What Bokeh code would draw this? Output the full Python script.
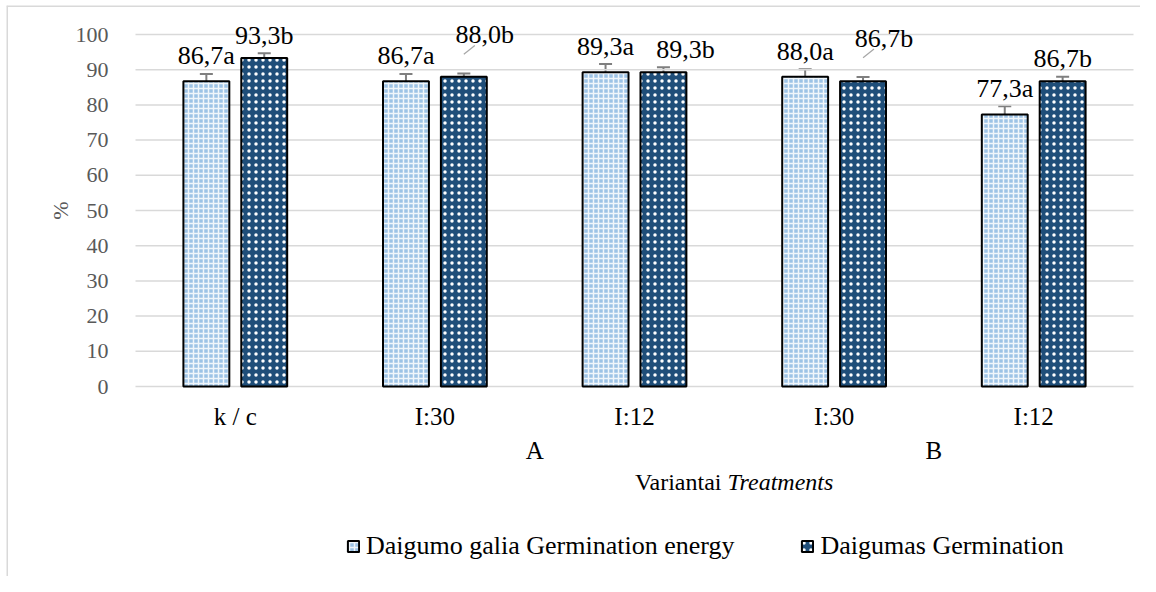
from bokeh.plotting import figure
from bokeh.models import (ColumnDataSource, Range1d, FixedTicker, LinearAxis, Legend,
                          LegendItem, Whisker, TeeHead, Label, Span)
from bokeh.core.properties import value
from bokeh.embed import file_html
from bokeh.resources import INLINE

# ---- data ----
categories = ["k / c", "I:30", "I:12", "I:30", "I:12"]
groups = ["", "A", "A", "B", "B"]
energy = [86.7, 86.7, 89.3, 88.0, 77.3]
germination = [93.3, 88.0, 89.3, 86.7, 86.7]
energy_err = [2.1, 2.1, 2.3, 2.1, 2.3]
germ_err = [1.4, 0.9, 1.4, 1.2, 1.3]
energy_letters = ["a", "a", "a", "a", "a"]
germ_letters = ["b", "b", "b", "b", "b"]
series_names = ["Daigumo galia Germination energy", "Daigumas Germination"]
y_ticks = [0, 10, 20, 30, 40, 50, 60, 70, 80, 90, 100]

FONT = "Liberation Serif"
LIGHT = "#9DC3E6"
DARK = "#1F4E79"
GRID = "#d9d9d9"

# ---- layout (pixels) ----
W, H = 1140, 576
FL, FT = 6, 5                 # frame left/top (chart border)
PX_X0, PX_X1 = 135, 1133      # plot area left/right
PX_Y0, PX_Y100 = 386, 34      # y=0 and y=100 pixel rows
ncat = len(categories)
ux = (PX_X1 - PX_X0) / ncat
uy = (PX_Y0 - PX_Y100) / 100.0
x_start = -(PX_X0 - FL) / ux
x_end = ncat + (W - PX_X1) / ux
y_end = (PX_Y0 - FT) / uy
y_start = -(H - PX_Y0) / uy

cat_x = [i + 0.5 for i in range(ncat)]
off = 0.145
bw = 0.23

def fmt(v, letter):
    return f"{v:.1f}".replace(".", ",") + letter

# label styles
lab_dy = -18
germ_xoff = [0, 21, 22, 21, 0]
germ_yoff = [lab_dy, -39, lab_dy, -39, lab_dy]
germ_leader = [False, True, False, True, False]

src_e = ColumnDataSource(dict(
    x=[c - off for c in cat_x], top=energy,
    upper=[v + e for v, e in zip(energy, energy_err)],
    lower=[v - e for v, e in zip(energy, energy_err)],
    label=[fmt(v, l) for v, l in zip(energy, energy_letters)],
))
src_g = ColumnDataSource(dict(
    x=[c + off for c in cat_x], top=germination,
    upper=[v + e for v, e in zip(germination, germ_err)],
    lower=[v - e for v, e in zip(germination, germ_err)],
    label=[fmt(v, l) for v, l in zip(germination, germ_letters)],
    xoff=germ_xoff, yoff=germ_yoff,
))

p = figure(width=W, height=H, output_backend="svg", toolbar_location=None,
           x_range=Range1d(x_start, x_end), y_range=Range1d(y_start, y_end),
           x_axis_type=None, y_axis_type=None,
           min_border_left=FL, min_border_right=0, min_border_top=FT, min_border_bottom=0)
p.outline_line_color = None
p.background_fill_color = "white"
p.border_fill_color = "white"

# chart border (left/top visible)
p.add_layout(Span(location=x_start, dimension="height", line_color=GRID, line_width=3))
p.add_layout(Span(location=y_end, dimension="width", line_color=GRID, line_width=3))

# gridlines
p.segment(x0=[0] * len(y_ticks), x1=[ncat] * len(y_ticks), y0=y_ticks, y1=y_ticks,
          line_color=GRID, line_width=1.5)

# y axis
yax = LinearAxis(fixed_location=0, bounds=(0, 100), ticker=FixedTicker(ticks=y_ticks))
yax.axis_line_color = None
yax.major_tick_line_color = None
yax.minor_tick_line_color = None
yax.major_label_text_font = FONT
yax.major_label_text_font_size = "22px"
yax.major_label_text_color = "#595959"
yax.major_label_standoff = 21
yax.axis_label = "%"
yax.axis_label_text_font = FONT
yax.axis_label_text_font_size = "22px"
yax.axis_label_text_font_style = "normal"
yax.axis_label_text_color = "#595959"
yax.axis_label_standoff = 0
p.add_layout(yax, "left")

# category axis
xax = LinearAxis(fixed_location=0, bounds=(0, ncat), ticker=FixedTicker(ticks=cat_x),
                 major_label_overrides={x: c for x, c in zip(cat_x, categories)})
xax.axis_line_color = None
xax.major_tick_line_color = None
xax.minor_tick_line_color = None
xax.major_label_text_font = FONT
xax.major_label_text_font_size = "25px"
xax.major_label_text_color = "black"
xax.major_label_standoff = 10
p.add_layout(xax, "below")

# group axis
gnames = [g for g in dict.fromkeys(groups) if g]
gpos = [sum(x for x, g in zip(cat_x, groups) if g == n) / groups.count(n) for n in gnames]
ax2 = LinearAxis(fixed_location=0, bounds=(0, ncat), ticker=FixedTicker(ticks=gpos),
                 major_label_overrides={x: g for x, g in zip(gpos, gnames)})
ax2.axis_line_color = None
ax2.major_tick_line_color = None
ax2.minor_tick_line_color = None
ax2.major_label_text_font = FONT
ax2.major_label_text_font_size = "25px"
ax2.major_label_text_color = "black"
ax2.major_label_standoff = 44
p.add_layout(ax2, "below")

# axis title with italic part
TX, TY = 727 - FL, H - 481
p.add_layout(Label(x=TX, y=TY, x_units="screen", y_units="screen", text="Variantai ",
                   text_align="right", text_baseline="middle", text_font=FONT,
                   text_font_size="24px", text_color="black"))
p.add_layout(Label(x=TX, y=TY, x_units="screen", y_units="screen", text="Treatments",
                   text_align="left", text_baseline="middle", text_font=FONT,
                   text_font_size="24px", text_font_style="italic", text_color="black"))

# bars
r_e = p.vbar(x="x", top="top", width=bw, bottom=0, source=src_e,
             fill_color=LIGHT, line_color="black", line_width=2,
             hatch_pattern="cross", hatch_color="white", hatch_scale=5, hatch_weight=1.5, hatch_alpha=0.85)
r_g = p.vbar(x="x", top="top", width=bw, bottom=0, source=src_g,
             fill_color=DARK, line_color="black", line_width=2,
             hatch_pattern="dot", hatch_color="white", hatch_scale=7, hatch_weight=2)

# error bars
for src in (src_e, src_g):
    p.add_layout(Whisker(source=src, base="x", upper="upper", lower="lower",
                         line_color="#7f7f7f", line_width=2,
                         upper_head=TeeHead(size=13, line_color="#7f7f7f", line_width=2),
                         lower_head=TeeHead(size=13, line_color="#7f7f7f", line_width=2)))

# data labels
p.text(x="x", y="upper", text="label", source=src_e, text_align="center",
       text_baseline="alphabetic", y_offset=lab_dy, text_font=value(FONT),
       text_font_size="26px", text_color="black")
p.text(x="x", y="upper", text="label", source=src_g, text_align="center",
       text_baseline="alphabetic", x_offset="xoff", y_offset="yoff", text_font=value(FONT),
       text_font_size="26px", text_color="black")

# leader lines
lx0 = [x for x, f in zip(src_g.data["x"], germ_leader) if f]
ly = [u for u, f in zip(src_g.data["upper"], germ_leader) if f]
p.segment(x0=lx0, y0=[u + 5.5 for u in ly], x1=[x + 0.055 for x in lx0], y1=[u + 8 for u in ly],
          line_color="#a6a6a6", line_width=1.2)

# legend
legend = Legend(items=[LegendItem(label=series_names[0], renderers=[r_e]),
                       LegendItem(label=series_names[1], renderers=[r_g])],
                orientation="horizontal", location=(340, 15))
legend.label_text_font = FONT
legend.label_text_font_size = "26px"
legend.label_text_color = "black"
legend.glyph_width = 14
legend.glyph_height = 14
legend.label_standoff = 6
legend.spacing = 66
legend.padding = 0
legend.margin = 0
legend.border_line_color = None
legend.background_fill_alpha = 0
p.add_layout(legend, "center")

open("out.html", "w").write(file_html(p, INLINE))
